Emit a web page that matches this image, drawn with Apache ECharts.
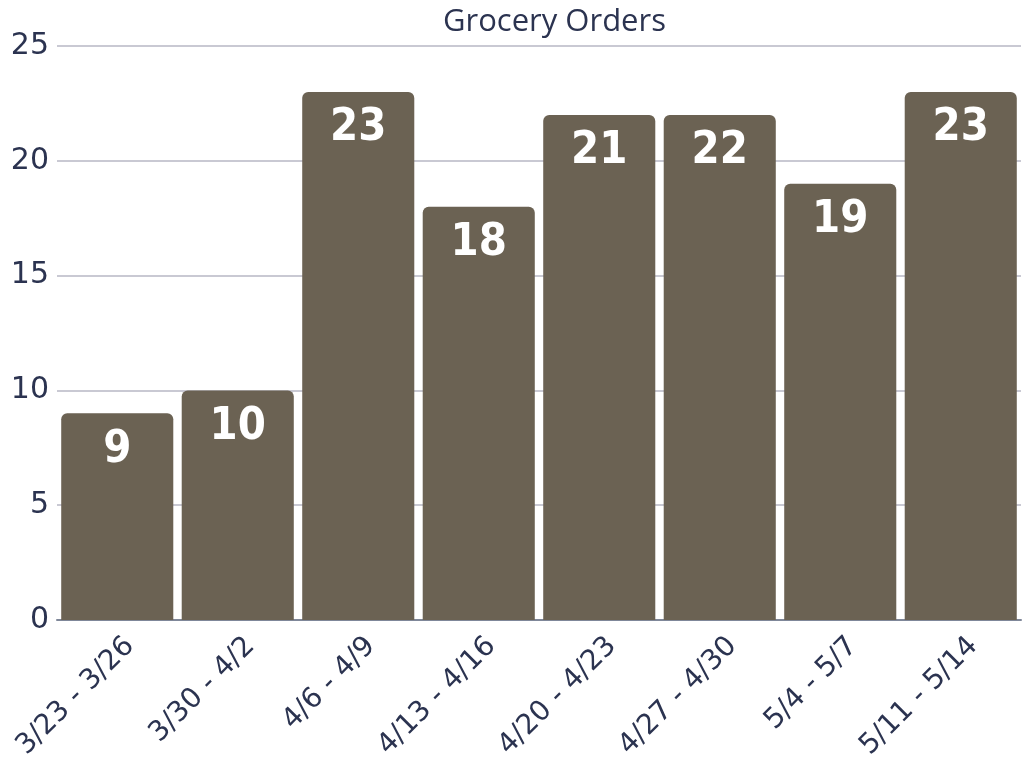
<!DOCTYPE html>
<html><head><meta charset="utf-8">
<script src="https://cdn.jsdelivr.net/npm/echarts@6/dist/echarts.min.js"></script>
<style>html,body{margin:0;padding:0;background:#fff}#c{width:1026px;height:763px}</style>
</head><body><div id="c"></div>
<script>
const categories = ["3/23 - 3/26","3/30 - 4/2","4/6 - 4/9","4/13 - 4/16","4/20 - 4/23","4/27 - 4/30","5/4 - 5/7","5/11 - 5/14"];
const orders = [9, 10, 23, 18, 22, 22, 19, 23];
const barLabels = ["9","10","23","18","21","22","19","23"];
const yTicks = [0, 5, 10, 15, 20, 25];

const chart = echarts.init(document.getElementById('c'));
chart.setOption({
  animation: false,
  title: {
    text: 'Grocery Orders', left: 438, top: 2,
    textStyle: {fontFamily: 'Open Sans', fontWeight: 'normal', fontSize: 31, color: '#2b3350'}
  },
  grid: {left: 57, right: 5, top: 46, bottom: 143, containLabel: false, outerBoundsMode: 'none'},
  xAxis: {
    type: 'category', data: categories,
    axisTick: {show: false},
    axisLine: {lineStyle: {color: '#7f8799', width: 2}},
    axisLabel: {rotate: 45, interval: 0, margin: 9, verticalAlign: 'top', lineHeight: 36,
      fontFamily: 'DejaVu Sans', fontSize: 28, color: '#2b3350'}
  },
  yAxis: {
    type: 'value', min: yTicks[0], max: yTicks[yTicks.length-1], interval: 5,
    axisLine: {show: false}, axisTick: {show: false},
    splitLine: {lineStyle: {color: '#c9c9d3', width: 2}},
    axisLabel: {margin: 8, fontFamily: 'DejaVu Sans', fontSize: 30, color: '#2b3350'}
  },
  series: [{
    type: 'bar', data: orders, barCategoryGap: '7%',
    itemStyle: {color: '#6b6253', borderRadius: [6, 6, 0, 0]},
    label: {
      show: true, position: 'insideTop', distance: 14,
      formatter: p => barLabels[p.dataIndex],
      fontStyle: 'condensed', fontFamily: "'DejaVu Sans Condensed', 'DejaVu Sans', sans-serif", fontWeight: 'bold', fontSize: 45, color: '#ffffff'
    }
  }]
});
</script></body></html>
